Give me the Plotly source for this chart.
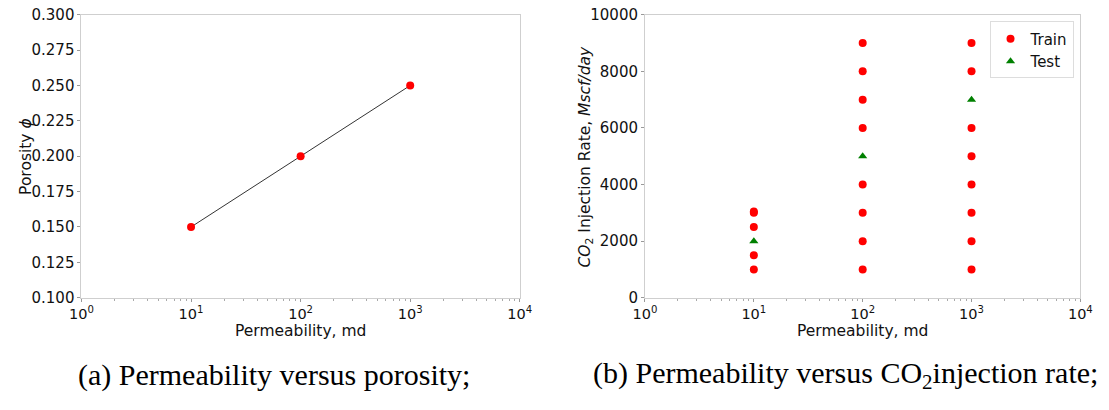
import plotly.graph_objects as go

# Panel (a): permeability vs porosity
perm_a = [10, 100, 1000]
porosity_a = [0.15, 0.20, 0.25]

# Panel (b): permeability vs CO2 injection rate
train_perm = [10, 10, 10, 10, 10,
              100, 100, 100, 100, 100, 100, 100, 100,
              1000, 1000, 1000, 1000, 1000, 1000, 1000, 1000]
train_rate = [1000, 1500, 2500, 3000, 3050,
              1000, 2000, 3000, 4000, 6000, 7000, 8000, 9000,
              1000, 2000, 3000, 4000, 5000, 6000, 8000, 9000]
test_perm = [10, 100, 1000]
test_rate = [2000, 5000, 7000]

x_tickvals = [1, 10, 100, 1000, 10000]
x_ticktext = ["10<sup>0</sup>", "10<sup>1</sup>", "10<sup>2</sup>", "10<sup>3</sup>", "10<sup>4</sup>"]
ya_tickvals = [0.100, 0.125, 0.150, 0.175, 0.200, 0.225, 0.250, 0.275, 0.300]
ya_ticktext = ["0.100", "0.125", "0.150", "0.175", "0.200", "0.225", "0.250", "0.275", "0.300"]
yb_tickvals = [0, 2000, 4000, 6000, 8000, 10000]
yb_ticktext = ["0", "2000", "4000", "6000", "8000", "10000"]

W, H = 1109, 410
TICK_FONT = dict(family="DejaVu Sans", size=15, color="#111")
XTICK_FONT = dict(family="DejaVu Sans", size=14.5, color="#111")
TITLE_FONT = dict(family="DejaVu Sans", size=15.5, color="#111")
CAP_FONT = dict(family="Liberation Serif", size=30, color="#000")
FRAME = "#cfcfcf"

fig = go.Figure()

fig.add_trace(go.Scatter(
    x=perm_a, y=porosity_a, mode="lines+markers",
    line=dict(color="#333", width=1),
    marker=dict(color="red", size=8),
    showlegend=False, xaxis="x", yaxis="y"))

fig.add_trace(go.Scatter(
    x=train_perm, y=train_rate, mode="markers", name="Train",
    marker=dict(color="red", size=8, symbol="circle"),
    xaxis="x2", yaxis="y2"))
fig.add_trace(go.Scatter(
    x=test_perm, y=test_rate, mode="markers", name="Test",
    marker=dict(color="green", size=8, symbol="triangle-up"),
    xaxis="x2", yaxis="y2"))

y_dom = [(H - 302) / H, (H - 6) / H]
xa_dom = [71 / W, 519 / W]
xb_dom = [647 / W, 1092 / W]

def xaxis_style(domain, anchor):
    return dict(
        domain=domain, anchor=anchor, type="log", range=[0, 4],
        tickvals=x_tickvals, ticktext=x_ticktext, tickfont=XTICK_FONT,
        ticks="outside", ticklen=3, tickcolor="#999",
        ticklabeloverflow="allow",
        minor=dict(ticks="outside", ticklen=2, tickcolor="#aaa",
                   dtick="D1", showgrid=False),
        showline=True, linecolor=FRAME, linewidth=1, mirror=True,
        showgrid=False, zeroline=False)

def yaxis_style(domain, anchor, rng, vals, text):
    return dict(
        domain=domain, anchor=anchor, range=rng, tickvals=vals,
        ticktext=text, tickfont=TICK_FONT,
        ticks="outside", ticklen=3, tickcolor="#999",
        ticklabeloverflow="allow",
        showline=True, linecolor=FRAME, linewidth=1, mirror=True,
        showgrid=False, zeroline=False)

fig.update_layout(
    width=W, height=H,
    margin=dict(l=0, r=0, t=0, b=0),
    paper_bgcolor="white", plot_bgcolor="white",
    xaxis=xaxis_style(xa_dom, "y"),
    yaxis=yaxis_style(y_dom, "x", [0.1, 0.3], ya_tickvals, ya_ticktext),
    xaxis2=xaxis_style(xb_dom, "y2"),
    yaxis2=yaxis_style(y_dom, "x2", [0, 10000], yb_tickvals, yb_ticktext),
    legend=dict(
        x=1085 / W, y=(H - 13) / H, xanchor="right", yanchor="top",
        bgcolor="white", bordercolor="#dddddd", borderwidth=1,
        font=dict(family="DejaVu Sans", size=15, color="#111"),
        itemwidth=30),
)

annotations = [
    # axis titles
    dict(text="Permeability, md", x=(xa_dom[0] + xa_dom[1]) / 2, y=(H - 337) / H,
         xanchor="center", yanchor="middle", font=TITLE_FONT),
    dict(text="Permeability, md", x=(xb_dom[0] + xb_dom[1]) / 2, y=(H - 337) / H,
         xanchor="center", yanchor="middle", font=TITLE_FONT),
    dict(text="Porosity <i>ϕ</i>", x=15 / W, y=(H - 154) / H, textangle=-90,
         xanchor="center", yanchor="middle", font=TITLE_FONT),
    dict(text="<i>CO</i><sub>2</sub> Injection Rate, <i>Mscf/day</i>", x=587 / W,
         y=(H - 154) / H, textangle=-90,
         xanchor="center", yanchor="middle", font=TITLE_FONT),
    # panel captions
    dict(text="(a) Permeability versus porosity;", x=268 / W, y=(H - 383) / H,
         xanchor="center", yanchor="middle", font=CAP_FONT),
    dict(text="(b) Permeability versus CO<sub>2</sub>injection rate;", x=852 / W,
         y=(H - 383) / H, xanchor="center", yanchor="middle", font=CAP_FONT),
]
for a in annotations:
    a.update(xref="paper", yref="paper", showarrow=False)
fig.update_layout(annotations=annotations)

fig.write_html("out.html")
